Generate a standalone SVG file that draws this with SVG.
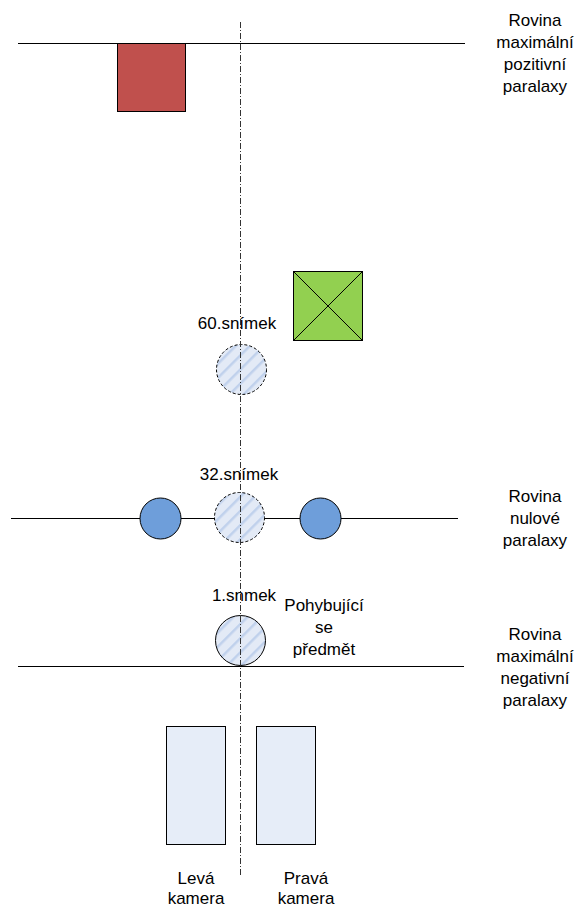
<svg xmlns="http://www.w3.org/2000/svg" width="576" height="907" viewBox="0 0 576 907">
<style>
.ln{stroke:#000;stroke-width:1;fill:none}
.axis{stroke:#333;stroke-width:1;stroke-dasharray:6,2,1,2;fill:none}
.t{font-family:"Liberation Sans",Arial,sans-serif;font-size:17px;fill:#000;text-anchor:middle}
.obj{fill:url(#hatch);stroke:#000;stroke-width:1}
.dash{stroke-dasharray:3,2}
.cam{fill:#E6EDF8;stroke:#000;stroke-width:1}
.blue{fill:#6E9EDA;stroke:#000;stroke-width:1}
</style>
<defs>
<pattern id="hatch" patternUnits="userSpaceOnUse" width="10" height="10" patternTransform="rotate(-45)">
<rect width="10" height="10" fill="#E3EAF6"/>
<rect width="10" height="2.5" fill="#C0D1EC"/>
</pattern>
</defs>
<g id="connectors">
<line class="ln" x1="18" y1="43.5" x2="465" y2="43.5"/>
<line class="ln" x1="11" y1="518.5" x2="458" y2="518.5"/>
<line class="ln" x1="18" y1="666.5" x2="464" y2="666.5"/>
</g>
<g id="red-square"><rect x="117.5" y="43.5" width="68" height="68" fill="#C0504D" stroke="#000"/></g>
<g id="green-square">
<rect x="293.5" y="271.5" width="69" height="69" fill="#92D050" stroke="#000"/>
<line class="ln" x1="293.5" y1="271.5" x2="362.5" y2="340.5"/>
<line class="ln" x1="362.5" y1="271.5" x2="293.5" y2="340.5"/>
</g>
<g id="frame60"><circle class="obj dash" cx="241.5" cy="369.5" r="25"/><text class="t" x="237" y="329">60.snímek</text></g>
<g id="frame32"><circle class="obj dash" cx="239.5" cy="517.5" r="25"/><text class="t" x="239" y="480">32.snímek</text></g>
<g id="left-ball"><circle class="blue" cx="160.5" cy="518.5" r="20.5"/></g>
<g id="right-ball"><circle class="blue" cx="320.5" cy="518.5" r="20.5"/></g>
<g id="frame1"><circle class="obj" cx="240.5" cy="640.5" r="25"/><text class="t" x="244" y="601">1.snmek</text></g>
<g id="moving-label"><text class="t" x="324" y="611">Pohybující</text><text class="t" x="324" y="633">se</text><text class="t" x="324" y="655">předmět</text></g>
<g id="left-camera"><rect class="cam" x="166.5" y="726.5" width="59" height="118"/><text class="t" x="196" y="884">Levá</text><text class="t" x="196" y="904">kamera</text></g>
<g id="right-camera"><rect class="cam" x="256.5" y="726.5" width="59" height="118"/><text class="t" x="306" y="884">Pravá</text><text class="t" x="306" y="904">kamera</text></g>
<g id="label-pos"><text class="t" x="535" y="26">Rovina</text><text class="t" x="535" y="48">maximální</text><text class="t" x="535" y="70">pozitivní</text><text class="t" x="535" y="92">paralaxy</text></g>
<g id="label-zero"><text class="t" x="535" y="502">Rovina</text><text class="t" x="535" y="524">nulové</text><text class="t" x="535" y="546">paralaxy</text></g>
<g id="label-neg"><text class="t" x="535" y="640">Rovina</text><text class="t" x="535" y="662">maximální</text><text class="t" x="535" y="684">negativní</text><text class="t" x="535" y="706">paralaxy</text></g>
<g id="axis"><line class="axis" x1="240.5" y1="22" x2="240.5" y2="876"/></g>
</svg>
